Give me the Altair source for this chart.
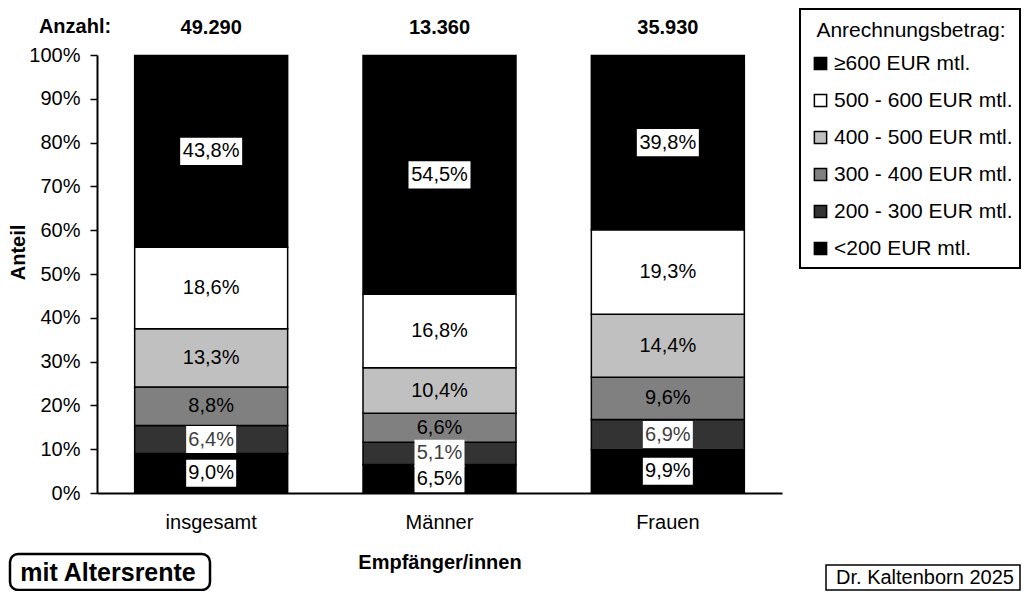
import altair as alt
import pandas as pd

groups = ["insgesamt", "Männer", "Frauen"]
counts = ["49.290", "13.360", "35.930"]
categories = ["<200 EUR mtl.", "200 - 300 EUR mtl.", "300 - 400 EUR mtl.",
              "400 - 500 EUR mtl.", "500 - 600 EUR mtl.", "≥600 EUR mtl."]
share_insgesamt = [9.0, 6.4, 8.8, 13.3, 18.6, 43.8]
share_maenner = [6.5, 5.1, 6.6, 10.4, 16.8, 54.5]
share_frauen = [9.9, 6.9, 9.6, 14.4, 19.3, 39.8]
cat_colors = ["#000000", "#333333", "#808080", "#c0c0c0", "#ffffff", "#000000"]

FONT = "Liberation Sans"

rows = []
for g, vals in zip(groups, [share_insgesamt, share_maenner, share_frauen]):
    start = 0.0
    for i, (c, v) in enumerate(zip(categories, vals)):
        rows.append({
            "group": g, "cat": c, "idx": i, "pct": v,
            "start": start, "end": start + v, "mid": start + v / 2,
            "label": f"{v:.1f}".replace(".", ",") + "%",
        })
        start += v
df = pd.DataFrame(rows)
cnt_df = pd.DataFrame({"group": groups, "count": counts})

legend_order = categories[::-1]
legend_colors = cat_colors[::-1]

x_enc = alt.X("group:N", sort=groups,
              scale=alt.Scale(paddingInner=0.33, paddingOuter=0.165),
              axis=alt.Axis(title="Empfänger/innen", labelAngle=0, ticks=False, tickSize=0,
                            domainColor="black", domainWidth=2, labelFontSize=20,
                            labelPadding=19, labelColor="black", titleFontSize=20,
                            titleFontWeight="bold", titlePadding=20, titleColor="black"))
y_scale = alt.Scale(domain=[0, 100])

bars = alt.Chart(df).mark_bar(stroke="black", strokeWidth=1.5).encode(
    x=x_enc,
    y=alt.Y("start:Q", scale=y_scale,
            axis=alt.Axis(values=list(range(0, 101, 10)), labelExpr="datum.value + '%'",
                          title="Anteil", grid=False, tickSize=7, tickColor="black",
                          tickWidth=1.5, domainColor="black", domainWidth=2,
                          labelFontSize=20, labelPadding=10, labelColor="black",
                          titleFontSize=20, titleFontWeight="bold", titleColor="black",
                          titleX=-69, titleY=197)),
    y2="end:Q",
    color=alt.Color("cat:N", scale=alt.Scale(domain=legend_order, range=legend_colors),
                    legend=alt.Legend(title="Anrechnungsbetrag:", orient="none",
                                      legendX=713, legendY=-35, padding=0,
                                      symbolType="square", symbolSize=150,
                                      symbolStrokeColor="black", symbolStrokeWidth=1.5,
                                      labelFontSize=21, labelColor="black", labelOffset=3,
                                      titleFontSize=21, titleFontWeight="normal",
                                      titleColor="black", titleAnchor="middle",
                                      titlePadding=12, rowPadding=15, labelLimit=300,
                                      titleLimit=300)),
)

PATH_LONG = "M-1,-0.44L1,-0.44L1,0.44L-1,0.44Z"
PATH_SHORT = "M-1,-0.54L1,-0.54L1,0.54L-1,0.54Z"
boxed = df[df["cat"].isin([categories[0], categories[1], categories[5]])]
boxes = alt.Chart(boxed).mark_point(filled=True, color="white", opacity=1, strokeWidth=0).encode(
    x=alt.X("group:N", sort=groups),
    y=alt.Y("mid:Q", scale=y_scale),
    shape=alt.condition("datum.pct >= 10", alt.value(PATH_LONG), alt.value(PATH_SHORT)),
    size=alt.condition("datum.pct >= 10", alt.value(3844), alt.value(2500)),
)

labels = alt.Chart(df).mark_text(fontSize=20, baseline="middle", align="center").encode(
    x=alt.X("group:N", sort=groups),
    y=alt.Y("mid:Q", scale=y_scale),
    text="label:N",
    color=alt.condition(f"datum.cat == '{categories[1]}'", alt.value("#404040"), alt.value("black")),
)

count_text = alt.Chart(cnt_df).mark_text(fontSize=20, fontWeight="bold", baseline="middle").encode(
    x=alt.X("group:N", sort=groups),
    y=alt.value(-27),
    text="count:N",
)

one = pd.DataFrame({"t": ["Anzahl:"]})
anzahl = alt.Chart(one).mark_text(fontSize=20, fontWeight="bold", baseline="middle").encode(
    x=alt.value(-22), y=alt.value(-28), text="t:N")

legend_box = alt.Chart(one).mark_rect(fill="white", stroke="black", strokeWidth=2).encode(
    x=alt.value(703), x2=alt.value(923), y=alt.value(-46), y2=alt.value(213))

mit_box = alt.Chart(one).mark_rect(fill="white", stroke="black", strokeWidth=2.5, cornerRadius=8).encode(
    x=alt.value(-87), x2=alt.value(113), y=alt.value(499), y2=alt.value(535))
mit_text = alt.Chart(pd.DataFrame({"t": ["mit Altersrente"]})).mark_text(
    fontSize=25, fontWeight="bold", baseline="middle").encode(
    x=alt.value(11), y=alt.value(518), text="t:N")

dr_box = alt.Chart(one).mark_rect(fill="white", stroke="black", strokeWidth=1.5).encode(
    x=alt.value(729), x2=alt.value(923), y=alt.value(510), y2=alt.value(535))
dr_text = alt.Chart(pd.DataFrame({"t": ["Dr. Kaltenborn 2025"]})).mark_text(
    fontSize=20, baseline="middle").encode(
    x=alt.value(828), y=alt.value(523), text="t:N")

chart = alt.layer(legend_box, bars, boxes, labels, count_text, anzahl,
                  mit_box, mit_text, dr_box, dr_text).properties(
    width=685, height=438,
    autosize=alt.AutoSizeParams(type="none"),
    padding={"left": 89, "top": 47, "right": 239, "bottom": 98},
).configure(font=FONT).configure_view(stroke=None).configure_text(color="black")

chart.save("out.html", embed_options={"renderer": "svg", "actions": False})
